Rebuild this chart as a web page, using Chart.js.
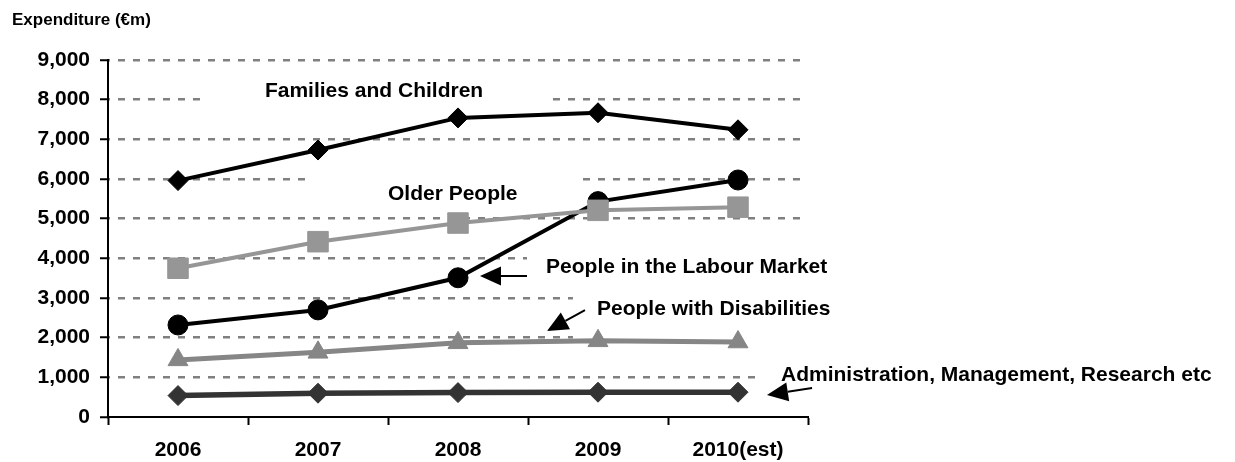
<!DOCTYPE html>
<html>
<head>
<meta charset="utf-8">
<script src="https://cdn.jsdelivr.net/npm/chart.js@4/dist/chart.umd.min.js"></script>
<style>
  html, body { margin: 0; padding: 0; background: #fff; }
  #wrap { width: 1235px; height: 462px; }
</style>
</head>
<body>
<div id="wrap"><canvas id="c" width="1235" height="462"></canvas></div>
<script>
// ---- data ----
const categories = ['2006', '2007', '2008', '2009', '2010(est)'];
const families = [5960, 6730, 7540, 7670, 7240];
const olderPeople = [3750, 4420, 4890, 5210, 5290];
const labourMarket = [2320, 2700, 3510, 5430, 5975];
const disabilities = [1440, 1630, 1870, 1920, 1890];
const administration = [540, 600, 615, 625, 625];
const yTicks = [0, 1000, 2000, 3000, 4000, 5000, 6000, 7000, 8000, 9000];
const axisTitle = 'Expenditure (€m)';
const seriesNames = ['Families and Children', 'Older People', 'People in the Labour Market',
                     'People with Disabilities', 'Administration, Management, Research etc'];

// ---- annotation placement (category index / value units) ----
const labelPos = [
  { text: seriesNames[0], x: 0.621, y: 8075, box: [0.157, 2.657, 8697, 7689] },
  { text: seriesNames[1], x: 1.500, y: 5471, box: [0.907, 2.893, 6277, 5345] },
  { text: seriesNames[2], x: 2.629, y: 3618, box: [2.493, 4.729, 4260, 3328] },
  { text: seriesNames[3], x: 2.993, y: 2559, box: [2.821, 4.729, 3151, 1790] },
  { text: seriesNames[4], x: 4.307, y: 920,  box: [4.136, 7.514, 1437, 782] }
];
const arrows = [
  { from: [2.493, 3554], to: [2.157, 3554] },
  { from: [2.907, 2697], to: [2.636, 2168] },
  { from: [4.529, 731],  to: [4.207, 555] }
];

const FONT = "'Liberation Sans', Arial, sans-serif";

const annotPlugin = {
  id: 'annot',
  beforeDraw(chart) {
    const ctx = chart.ctx;
    ctx.save();
    ctx.fillStyle = '#fff';
    ctx.fillRect(0, 0, chart.width, chart.height);
    ctx.restore();
  },
  beforeDatasetsDraw(chart) {
    const ctx = chart.ctx, xs = chart.scales.x, ys = chart.scales.y;
    ctx.save();
    labelPos.forEach(l => {
      const x1 = xs.getPixelForValue(l.box[0]), x2 = xs.getPixelForValue(l.box[1]);
      const y1 = ys.getPixelForValue(l.box[2]), y2 = ys.getPixelForValue(l.box[3]);
      ctx.fillStyle = '#fff';
      ctx.fillRect(x1, y1, x2 - x1, y2 - y1);
    });
    ctx.fillStyle = '#000';
    ctx.font = 'bold 21px ' + FONT;
    ctx.textBaseline = 'alphabetic';
    ctx.textAlign = 'left';
    labelPos.forEach(l => {
      ctx.fillText(l.text, xs.getPixelForValue(l.x), ys.getPixelForValue(l.y));
    });
    ctx.font = 'bold 17px ' + FONT;
    ctx.fillText(axisTitle, 12, 25);
    ctx.restore();
  },
  afterDatasetsDraw(chart) {
    const ctx = chart.ctx, xs = chart.scales.x, ys = chart.scales.y;
    ctx.save();
    ctx.strokeStyle = '#000';
    ctx.fillStyle = '#000';
    ctx.lineWidth = 2;
    arrows.forEach(a => {
      const fx = xs.getPixelForValue(a.from[0]), fy = ys.getPixelForValue(a.from[1]);
      const tx = xs.getPixelForValue(a.to[0]), ty = ys.getPixelForValue(a.to[1]);
      const ang = Math.atan2(ty - fy, tx - fx);
      const hl = 21, hw = 9.5;
      const bx = tx - Math.cos(ang) * hl, by = ty - Math.sin(ang) * hl;
      ctx.beginPath();
      ctx.moveTo(fx, fy);
      ctx.lineTo(bx, by);
      ctx.stroke();
      ctx.beginPath();
      ctx.moveTo(tx, ty);
      ctx.lineTo(bx + Math.sin(ang) * hw, by - Math.cos(ang) * hw);
      ctx.lineTo(bx - Math.sin(ang) * hw, by + Math.cos(ang) * hw);
      ctx.closePath();
      ctx.fill();
    });
    ctx.restore();
  }
};

function ds(label, data, color, style, radius, width, order) {
  return {
    label, data, order,
    borderColor: color, backgroundColor: color,
    borderWidth: width, tension: 0,
    pointStyle: style, pointRadius: radius, pointHoverRadius: radius,
    pointBackgroundColor: color, pointBorderColor: color, pointBorderWidth: 1
  };
}

new Chart(document.getElementById('c'), {
  type: 'line',
  data: {
    labels: categories,
    datasets: [
      ds(seriesNames[0], families, '#000000', 'rectRot', 10, 4, 2),
      ds(seriesNames[1], olderPeople, '#969696', 'rect', 14.5, 4, 0),
      ds(seriesNames[2], labourMarket, '#000000', 'circle', 10, 4, 1),
      ds(seriesNames[3], disabilities, '#868686', 'triangle', 11.5, 5, 3),
      ds(seriesNames[4], administration, '#333333', 'rectRot', 10, 5.5, 4)
    ]
  },
  options: {
    responsive: false,
    animation: false,
    devicePixelRatio: 1,
    layout: { padding: { top: 60, right: 427, left: 0, bottom: 0 } },
    plugins: { legend: { display: false }, tooltip: { enabled: false }, title: { display: false } },
    scales: {
      x: {
        type: 'category',
        offset: true,
        grid: { display: true, drawOnChartArea: false, drawTicks: true, tickLength: 8, tickColor: '#000', tickWidth: 2, offset: true },
        border: { display: true, color: '#000', width: 2 },
        ticks: { color: '#000', font: { family: FONT, size: 21, weight: 'bold' }, padding: 13, maxRotation: 0, autoSkip: false },
        afterFit(s) { s.height = 45; }
      },
      y: {
        min: yTicks[0],
        max: yTicks[yTicks.length - 1],
        afterBuildTicks(s) { s.ticks = yTicks.map(v => ({ value: v })); },
        ticks: {
          color: '#000', font: { family: FONT, size: 21, weight: 'bold' }, padding: 10,
          callback: v => Number(v).toLocaleString('en-US')
        },
        grid: {
          color: c => (c.tick && c.tick.value === 0) ? 'rgba(0,0,0,0)' : '#808080',
          lineWidth: 2.5, tickColor: '#000', tickWidth: 2, tickLength: 8
        },
        border: { display: true, color: '#000', width: 2, dash: [7, 8], dashOffset: 6 },
        afterFit(s) { s.width = 108; }
      }
    }
  },
  plugins: [annotPlugin]
});
</script>
</body>
</html>
